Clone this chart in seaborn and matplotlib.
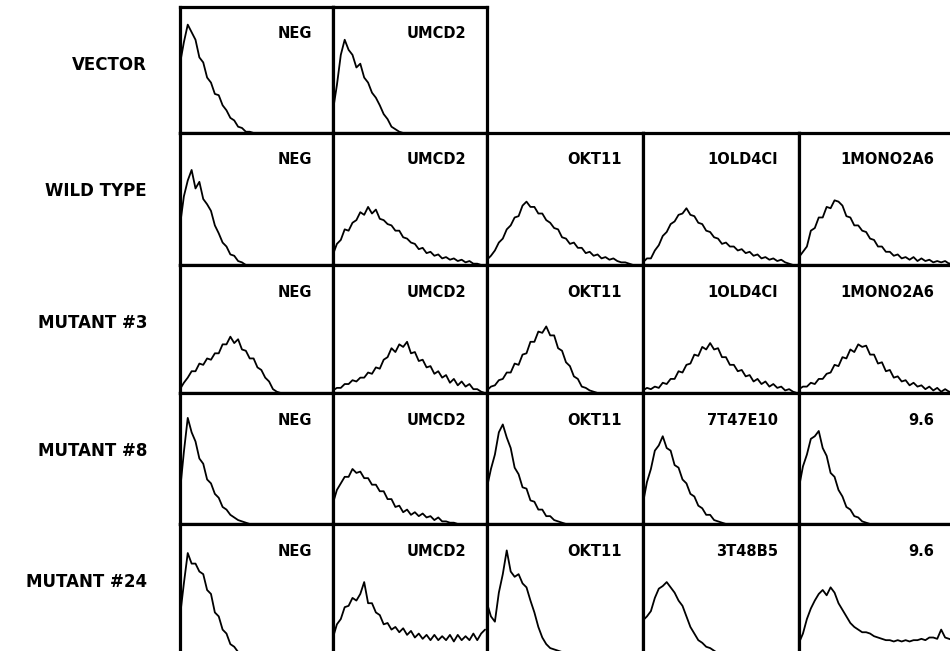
import matplotlib
matplotlib.use("Agg")
import matplotlib.pyplot as plt
import pandas as pd
import seaborn as sns

# flow cytometry histograms, counts as % of panel height
channels = list(range(40))

row_names = ["VECTOR", "WILD TYPE", "MUTANT #3", "MUTANT #8", "MUTANT #24"]

antibodies = [
    ["NEG", "UMCD2"],
    ["NEG", "UMCD2", "OKT11", "1OLD4CI", "1MONO2A6"],
    ["NEG", "UMCD2", "OKT11", "1OLD4CI", "1MONO2A6"],
    ["NEG", "UMCD2", "OKT11", "7T47E10", "9.6"],
    ["NEG", "UMCD2", "OKT11", "3T48B5", "9.6"],
]

vector_neg = [55, 72, 86, 80, 74, 60, 56, 44, 40, 31, 30, 22, 18, 12, 10, 5, 4, 1, 1, 0]
vector_umcd2 = [18, 38, 62, 74, 66, 62, 52, 55, 44, 40, 32, 28, 22, 15, 11, 5, 3, 1, 0]

wt_neg = [30, 52, 64, 72, 58, 63, 50, 46, 41, 30, 24, 17, 14, 8, 7, 3, 2, 0]
wt_umcd2 = [8, 16, 19, 27, 26, 32, 34, 40, 38, 44, 39, 42, 35, 34, 31, 30, 26, 26, 21, 20,
            17, 16, 12, 13, 9, 10, 7, 8, 5, 6, 4, 5, 3, 4, 2, 3, 1, 1, 0, 0]
wt_okt11 = [4, 7, 11, 17, 20, 27, 30, 36, 37, 45, 48, 44, 44, 39, 39, 34, 32, 28, 27, 21,
            20, 16, 17, 13, 13, 9, 10, 7, 8, 5, 6, 4, 5, 3, 2, 2, 1, 0, 0, 0]
wt_1old4ci = [2, 5, 5, 11, 15, 22, 25, 31, 33, 38, 39, 43, 38, 37, 32, 31, 26, 25, 21, 20,
              16, 17, 14, 14, 11, 12, 9, 10, 7, 8, 5, 6, 4, 5, 3, 4, 2, 1, 0, 0]
wt_1mono2a6 = [6, 10, 14, 26, 28, 36, 36, 44, 43, 49, 48, 45, 37, 36, 30, 30, 26, 25, 20, 19,
               14, 14, 10, 10, 7, 8, 5, 6, 4, 6, 3, 5, 3, 4, 2, 3, 2, 3, 1, 2]

m3_neg = [3, 8, 12, 17, 17, 23, 22, 27, 26, 31, 31, 38, 38, 44, 39, 42, 34, 33, 27, 27,
          20, 18, 12, 9, 3, 1, 0]
m3_umcd2 = [2, 4, 4, 7, 7, 10, 9, 12, 12, 16, 15, 20, 19, 26, 28, 35, 32, 38, 36, 40,
            31, 32, 25, 26, 20, 21, 15, 17, 12, 14, 8, 11, 6, 9, 5, 7, 3, 3, 1, 0]
m3_okt11 = [2, 5, 6, 10, 11, 16, 16, 23, 22, 30, 31, 40, 40, 48, 47, 52, 45, 45, 35, 33,
            24, 21, 13, 11, 5, 4, 2, 1, 0]
m3_1old4ci = [2, 4, 3, 5, 4, 8, 7, 11, 11, 17, 16, 22, 23, 30, 29, 36, 34, 39, 34, 35,
              28, 28, 22, 22, 17, 18, 13, 14, 9, 11, 7, 9, 5, 7, 4, 5, 2, 3, 1, 0]
m3_1mono2a6 = [3, 5, 5, 8, 7, 11, 11, 15, 16, 22, 21, 28, 27, 34, 32, 38, 36, 37, 30, 30,
               23, 24, 17, 18, 12, 13, 9, 10, 6, 8, 5, 6, 3, 5, 2, 4, 1, 3, 1, 1]

m8_neg = [25, 55, 81, 70, 63, 50, 46, 34, 31, 23, 20, 13, 11, 7, 5, 3, 2, 1, 0]
m8_umcd2 = [16, 26, 31, 36, 36, 42, 39, 40, 35, 35, 30, 30, 25, 25, 19, 19, 13, 14, 9, 11,
            7, 9, 6, 8, 5, 6, 3, 5, 2, 2, 1, 1, 0]
m8_okt11 = [28, 42, 53, 70, 76, 66, 58, 43, 38, 28, 27, 18, 17, 11, 11, 6, 6, 3, 2, 1, 0]
m8_7t47e10 = [16, 32, 42, 56, 60, 67, 58, 56, 45, 43, 34, 31, 23, 21, 14, 12, 7, 7, 3, 2, 1, 0]
m8_96 = [28, 44, 53, 65, 67, 71, 58, 52, 39, 36, 26, 21, 13, 11, 6, 5, 2, 1, 0]

m24_neg = [30, 55, 78, 70, 70, 64, 62, 50, 47, 33, 30, 20, 17, 9, 7, 3, 1, 0]
m24_umcd2 = [14, 24, 28, 37, 38, 44, 42, 47, 56, 40, 40, 33, 31, 24, 25, 20, 22, 18, 21, 16,
             19, 14, 17, 13, 16, 12, 16, 12, 15, 12, 16, 11, 16, 12, 15, 12, 17, 12, 17, 20]
m24_okt11 = [40, 30, 26, 48, 62, 80, 64, 60, 62, 55, 52, 42, 33, 22, 14, 9, 6, 5, 4, 3, 2, 1, 0]
m24_3t48b5 = [27, 30, 34, 44, 51, 53, 56, 52, 48, 42, 38, 30, 22, 17, 12, 10, 7, 6, 4, 2, 1, 0]
m24_96 = [10, 17, 28, 36, 42, 47, 50, 46, 52, 48, 40, 35, 30, 25, 22, 20, 18, 18, 17, 15,
          14, 13, 12, 12, 11, 12, 11, 12, 11, 12, 12, 13, 12, 14, 14, 13, 20, 14, 13, 12]

counts = [
    [vector_neg, vector_umcd2],
    [wt_neg, wt_umcd2, wt_okt11, wt_1old4ci, wt_1mono2a6],
    [m3_neg, m3_umcd2, m3_okt11, m3_1old4ci, m3_1mono2a6],
    [m8_neg, m8_umcd2, m8_okt11, m8_7t47e10, m8_96],
    [m24_neg, m24_umcd2, m24_okt11, m24_3t48b5, m24_96],
]

# panel grid edges in pixels
W, H = 950, 651
col_edges = [180, 333, 487, 643, 799, 955]
row_edges = [7, 133, 265, 393, 524, 656]

sns.set_style("white")
plt.rcParams["font.family"] = ["DejaVu Sans"]
plt.rcParams["text.color"] = "black"

fig = plt.figure(figsize=(W / 100, H / 100), dpi=100)

for r, name in enumerate(row_names):
    y0, y1 = row_edges[r], row_edges[r + 1]
    fig.text(147 / W, 1 - (y0 + 58) / H, name, ha="right", va="center",
             fontsize=12, fontweight="bold", color="black")
    for c, ab in enumerate(antibodies[r]):
        x0, x1 = col_edges[c], col_edges[c + 1]
        ax = fig.add_axes([x0 / W, 1 - y1 / H, (x1 - x0) / W, (y1 - y0) / H])
        vals = counts[r][c]
        vals = vals + [0] * (len(channels) - len(vals))
        df = pd.DataFrame({"channel": channels, "count": vals})
        sns.lineplot(data=df, x="channel", y="count", ax=ax, color="black",
                     lw=1.3, estimator=None)
        ax.set_xlim(0, 39.5)
        ax.set_ylim(0, 100)
        ax.set(xticks=[], yticks=[], xlabel="", ylabel="")
        for s in ax.spines.values():
            s.set_linewidth(2.3)
            s.set_color("black")
        ax.text(1 - 21 / (x1 - x0), 1 - 27 / (y1 - y0), ab, transform=ax.transAxes,
                ha="right", va="center", fontsize=10.5, fontweight="bold",
                color="black")

fig.savefig("out.png", dpi=100)
